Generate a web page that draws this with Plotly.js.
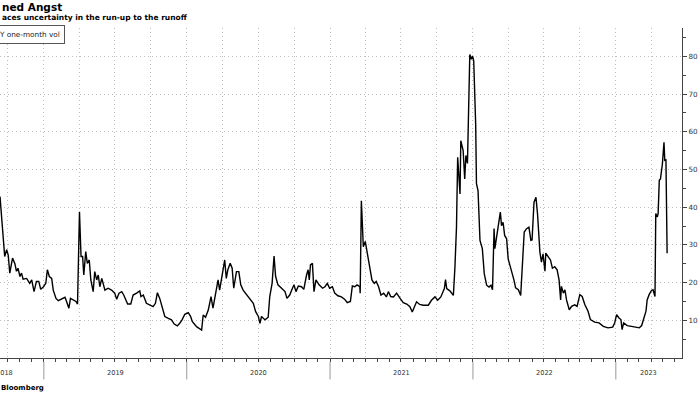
<!DOCTYPE html>
<html>
<head>
<meta charset="utf-8">
<script src="https://cdn.plot.ly/plotly-3.0.1.min.js"></script>
<style>
  html, body { margin: 0; padding: 0; background: #fff; }
  #chart { width: 700px; height: 394px; }
</style>
</head>
<body>
<div id="chart"></div>
<script>
// ---- Data (USD/TRY one-month implied vol) ----
const dates2018 = ['2018-09-11','2018-09-15','2018-09-19','2018-09-23','2018-09-28','2018-10-02','2018-10-06','2018-10-13','2018-10-19','2018-10-23','2018-10-27','2018-11-01','2018-11-05','2018-11-09','2018-11-18','2018-11-26','2018-12-01','2018-12-07','2018-12-13','2018-12-19','2018-12-24','2018-12-31'];
const vol2018 = [42.8,37.5,34,26.9,28.7,27.3,22.5,26.5,25,23,23.8,21.6,22.5,20.9,21.1,19.8,20.7,17.6,20.3,20.3,18.2,18.9];

const dates2019 = ['2019-01-06','2019-01-10','2019-01-15','2019-01-21','2019-01-25','2019-02-01','2019-02-07','2019-02-15','2019-02-24','2019-02-28','2019-03-06','2019-03-10','2019-03-17','2019-03-24','2019-03-28','2019-03-30','2019-04-02','2019-04-06','2019-04-10','2019-04-13','2019-04-18','2019-04-22','2019-04-27','2019-05-01','2019-05-07','2019-05-11','2019-05-16','2019-05-20','2019-05-24','2019-05-29','2019-06-06','2019-06-14','2019-06-23','2019-07-01','2019-07-06','2019-07-12','2019-07-19','2019-07-24','2019-08-03','2019-08-11','2019-08-17','2019-08-26','2019-09-03','2019-09-06','2019-09-12','2019-09-20','2019-09-29','2019-10-07','2019-10-13','2019-10-18','2019-10-24','2019-10-30','2019-11-06','2019-11-15','2019-11-23','2019-11-30','2019-12-08','2019-12-14','2019-12-20','2019-12-27'];
const vol2019 = [19.8,23.4,21.6,21.1,18,15.8,15.2,15.6,16.1,15,13.2,15.8,15.4,15,14.3,24.2,38.8,26.9,26.9,22,28.2,25.1,26,20.7,17.6,22.9,20.7,22,18.9,21.1,18,18.5,18,17.2,15.6,17.2,17.6,16.7,14.3,14.3,16.7,17.2,17.8,16.3,16.7,14.5,14.1,13.6,14.5,17.3,15.8,13.2,11,10.5,10.1,9,8.5,9.2,10.1,11.6];

const dates2020 = ['2020-01-05','2020-01-11','2020-01-15','2020-01-26','2020-02-08','2020-02-12','2020-02-18','2020-02-25','2020-03-03','2020-03-08','2020-03-15','2020-03-21','2020-03-25','2020-03-31','2020-04-07','2020-04-11','2020-04-15','2020-04-21','2020-04-26','2020-04-30','2020-05-07','2020-05-13','2020-05-18','2020-05-24','2020-06-02','2020-06-11','2020-06-19','2020-06-25','2020-07-02','2020-07-06','2020-07-10','2020-07-19','2020-07-27','2020-07-31','2020-08-06','2020-08-11','2020-08-15','2020-08-21','2020-08-30','2020-09-08','2020-09-13','2020-09-20','2020-09-27','2020-10-01','2020-10-06','2020-10-12','2020-10-20','2020-10-26','2020-11-02','2020-11-06','2020-11-09','2020-11-12','2020-11-17','2020-11-21','2020-11-26','2020-12-04','2020-12-13','2020-12-19','2020-12-25','2020-12-31'];
const vol2020 = [12,11,9.7,8.3,7.4,11.4,10.8,12.7,16.3,13.2,17.2,20.7,18,22,26,21.1,23.4,25.1,23.8,18.5,22.9,22.9,19.4,18,16.7,15.6,14.5,12.3,11,9.2,11,10.1,10.8,16.3,19.8,27,21.6,19.4,18.5,17.6,15.8,16.7,18.5,19.4,17.6,19.1,18.9,18.2,22,23.4,20.7,24.7,25.1,17.6,20.7,19.4,18.5,18.9,19.8,18.5];

const dates2021 = ['2021-01-07','2021-01-13','2021-01-21','2021-01-30','2021-02-07','2021-02-14','2021-02-22','2021-02-27','2021-03-05','2021-03-11','2021-03-18','2021-03-19','2021-03-22','2021-03-27','2021-04-01','2021-04-07','2021-04-12','2021-04-18','2021-04-24','2021-04-29','2021-05-05','2021-05-11','2021-05-18','2021-05-25','2021-05-30','2021-06-05','2021-06-12','2021-06-20','2021-06-29','2021-07-07','2021-07-16','2021-07-24','2021-07-30','2021-08-10','2021-08-18','2021-08-27','2021-09-09','2021-09-17','2021-09-26','2021-10-03','2021-10-11','2021-10-20','2021-10-23','2021-10-26','2021-11-03','2021-11-12','2021-11-16','2021-11-20','2021-11-23','2021-11-29','2021-12-01','2021-12-07','2021-12-11','2021-12-14','2021-12-18','2021-12-22','2021-12-24','2021-12-28','2021-12-31'];
const vol2021 = [18.9,17.2,16.5,16.2,15.6,14.7,15,19.1,18.9,19.4,18.9,17.2,41.7,29.5,30.9,26.9,24.2,20.7,19.8,20.3,18.9,16.7,17.2,16.2,17.6,16.3,16.2,17.2,15.8,14.7,14.3,13.6,12.2,14.9,14.2,14,14,15.3,16.2,15.3,16.2,18.4,20.8,18.4,17.8,16.6,24.1,34.7,53.2,43.5,57.6,55,47.5,53.7,51.6,66.4,80.5,79.2,80.1];

const dates2022 = ['2022-01-03','2022-01-08','2022-01-10','2022-01-14','2022-01-19','2022-01-25','2022-01-30','2022-02-05','2022-02-11','2022-02-16','2022-02-20','2022-02-24','2022-02-26','2022-03-02','2022-03-08','2022-03-12','2022-03-15','2022-03-19','2022-03-23','2022-03-28','2022-04-01','2022-04-10','2022-04-16','2022-04-20','2022-04-27','2022-05-03','2022-05-07','2022-05-12','2022-05-18','2022-05-24','2022-05-29','2022-06-01','2022-06-06','2022-06-11','2022-06-15','2022-06-21','2022-06-25','2022-06-29','2022-07-04','2022-07-06','2022-07-12','2022-07-18','2022-07-23','2022-07-29','2022-08-04','2022-08-09','2022-08-13','2022-08-15','2022-08-20','2022-08-24','2022-08-28','2022-09-04','2022-09-10','2022-09-18','2022-09-24','2022-10-01','2022-10-07','2022-10-14','2022-10-22','2022-10-28','2022-11-08','2022-11-19','2022-11-30','2022-12-12','2022-12-24','2022-12-29'];
const vol2022 = [78.8,62,46.2,44.4,31.2,29,22.3,19.3,18.8,19.3,18.1,34.3,29,32,36,38.7,35.1,36,32.5,31.6,26.3,23.2,20.6,18.6,18.1,16.6,24.1,33.4,34.3,34.7,31.2,31.3,41.3,42.6,38.2,28.1,25.4,27.6,23,27.8,26.9,26,23.8,24.2,23.4,20.7,15.4,19,17.2,18.1,15.4,12.8,13.7,14.1,13.7,16.8,16.3,14.1,12.4,10.2,9.5,9.3,8.4,8,8.2,9.3];

const dates2023 = ['2023-01-03','2023-01-09','2023-01-14','2023-01-17','2023-01-21','2023-01-30','2023-02-10','2023-02-23','2023-03-02','2023-03-08','2023-03-14','2023-03-19','2023-03-22','2023-03-27','2023-04-02','2023-04-06','2023-04-11','2023-04-13','2023-04-17','2023-04-19','2023-04-22','2023-04-25','2023-04-30','2023-05-04','2023-05-06','2023-05-09','2023-05-12'];
const vol2023 = [11.5,10.6,10.2,7.5,9.3,8.6,8.4,8.2,8,8.6,10.6,12.4,15.4,16.8,17.9,18.1,16.3,38.3,37.4,38.3,47.1,47.5,51.5,57.2,52.4,52.5,27.8];

const yTickVals = [10,20,30,40,50,60,70,80];
const yMinorVals = [5,15,25,35,45,55,65,75,85];
const yearLabels = ['2018','2019','2020','2021','2022','2023'];
const yearLabelDates = ['2018-09-11','2019-07-02','2020-07-02','2021-07-02','2022-07-02','2023-03-26'];
const yearBoundaries = ['2019-01-01','2020-01-01','2021-01-01','2022-01-01','2023-01-01'];

const titleText = 'ned Angst';
const subtitleText = 'aces uncertainty in the run-up to the runoff';
const legendText = 'Y one-month vol';
const sourceText = 'Bloomberg';

// ---- Build ----
const xDates = [].concat(dates2018, dates2019, dates2020, dates2021, dates2022, dates2023);
const yVol = [].concat(vol2018, vol2019, vol2020, vol2021, vol2022, vol2023);

const trace = {
  type: 'scatter', mode: 'lines', x: xDates, y: yVol,
  line: { color: '#000000', width: 1.4 }, hoverinfo: 'skip', showlegend: false
};

const axisColor = '#444';
const gridColor = '#bdbdbd';
const gridDash = '1px,3px';

const annotations = [
  { text: '<b>' + titleText + '</b>', xref: 'paper', yref: 'paper', x: 0, y: 1.0636, xanchor: 'left', yanchor: 'middle', showarrow: false, font: { family: 'DejaVu Sans', size: 10.5, color: '#000' } },
  { text: '<b>' + subtitleText + '</b>', xref: 'paper', yref: 'paper', x: 0, y: 1.0318, xanchor: 'left', yanchor: 'middle', showarrow: false, font: { family: 'DejaVu Sans', size: 7.5, color: '#000' } },
  { text: legendText, xref: 'paper', yref: 'paper', x: 0, xshift: -6, y: 0.979, xanchor: 'left', yanchor: 'middle', showarrow: false, bordercolor: '#555', borderwidth: 1, borderpad: 4, bgcolor: '#fff', font: { family: 'DejaVu Sans', size: 7.3, color: '#222' } },
  { text: '<b>' + sourceText + '</b>', xref: 'paper', yref: 'paper', x: 0, xshift: -1, y: -0.0909, xanchor: 'left', yanchor: 'middle', showarrow: false, font: { family: 'DejaVu Sans', size: 7, color: '#000' } }
];
yearLabels.forEach(function (lbl, i) {
  annotations.push({ text: lbl, xref: 'x', yref: 'paper', x: yearLabelDates[i], xshift: (i === 0 ? 4 : 0), y: -0.0455, xanchor: 'center', yanchor: 'middle', showarrow: false, font: { family: 'DejaVu Sans', size: 6.6, color: '#333' } });
});

const shapes = yearBoundaries.map(function (d) {
  return { type: 'line', xref: 'x', yref: 'paper', x0: d, x1: d, y0: -0.012, y1: -0.065, line: { color: '#999', width: 1 } };
});

const layout = {
  width: 700, height: 394,
  margin: { l: 0, r: 18, t: 28, b: 36, pad: 0 },
  paper_bgcolor: '#fff', plot_bgcolor: '#fff',
  showlegend: false,
  font: { family: 'DejaVu Sans', size: 7, color: '#333' },
  xaxis: {
    type: 'date', range: ['2018-09-11', '2023-06-19'],
    showline: true, linecolor: axisColor, linewidth: 1,
    showgrid: true, gridcolor: gridColor, griddash: gridDash, gridwidth: 1,
    tickmode: 'linear', tick0: '2018-10-01', dtick: 'M3',
    ticks: 'outside', ticklen: 3, tickcolor: axisColor, showticklabels: false,
    minor: { tickmode: 'linear', tick0: '2018-09-01', dtick: 'M1', ticks: 'outside', ticklen: 3, tickcolor: axisColor, showgrid: false },
    zeroline: false, fixedrange: true
  },
  yaxis: {
    side: 'right', range: [0, 87.5],
    showline: true, linecolor: axisColor, linewidth: 1,
    showgrid: true, gridcolor: gridColor, griddash: gridDash, gridwidth: 1,
    tickmode: 'array', tickvals: yTickVals, ticktext: yTickVals.map(String),
    ticks: 'outside', ticklen: 4, tickcolor: axisColor,
    tickfont: { family: 'DejaVu Sans', size: 7.2, color: '#333' },
    minor: { tickmode: 'array', tickvals: yMinorVals, ticks: 'outside', ticklen: 3, tickcolor: axisColor, showgrid: false },
    zeroline: false, fixedrange: true
  },
  annotations: annotations,
  shapes: shapes
};

Plotly.newPlot('chart', [trace], layout, { staticPlot: true, displayModeBar: false });
</script>
</body>
</html>
